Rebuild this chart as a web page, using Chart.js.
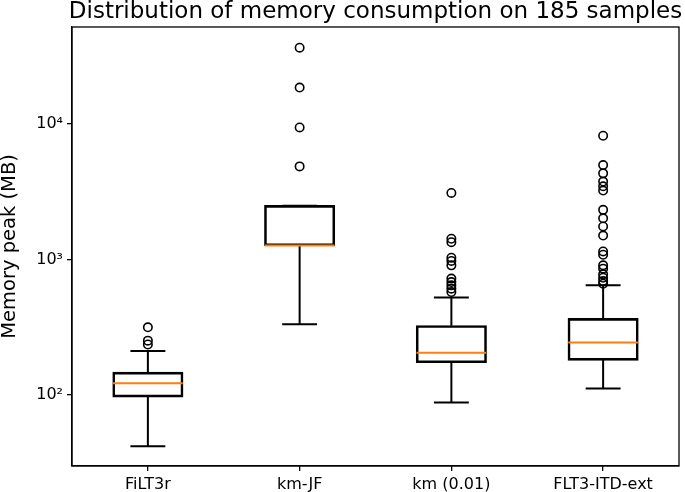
<!DOCTYPE html>
<html>
<head>
<meta charset="utf-8">
<script src="https://cdn.jsdelivr.net/npm/chart.js@4.4.1/dist/chart.umd.min.js"></script>
<style>
  html, body { margin: 0; padding: 0; background: #fff; }
  canvas { display: block; }
</style>
</head>
<body>
<canvas id="memChart" width="685" height="492"></canvas>
<script>
// box plot values (MB)
const labels = ['FiLT3r', 'km-JF', 'km (0.01)', 'FLT3-ITD-ext'];
const q1 = [97, 1267, 174, 181];
const medians = [122, 1267, 205, 244];
const q3 = [147, 2490, 324, 366];
const whiskerLow = [42, 333, 88, 112];
const whiskerHigh = [211, 2490, 525, 644];
const outliers = [
    [236, 252, 316],
    [4850, 9400, 18500, 36400],
    [575, 609, 644, 681, 722, 904, 975, 1030, 1340, 1420, 3090],
    [662, 692, 733, 776, 855, 904, 1083, 1145, 1500, 1750, 2010, 2320, 3220, 3460, 3750, 4310, 4960, 8160]
];
const yTicks = [100, 1000, 10000];
const yTickLabels = ['10²', '10³', '10⁴'];

const titleText = 'Distribution of memory consumption on 185 samples';
const yLabel = 'Memory peak (MB)';
const font = "'DejaVu Sans', sans-serif";

const boxHalf = 0.23;
const capHalf = 0.115;

// build line segments (null breaks the line between segments)
let whiskerPts = [];
let medianPts = [];
let outlierPts = [];
for (let i = 0; i < labels.length; i++) {
    let x = i + 1;
    whiskerPts.push({x: x, y: q1[i]}, {x: x, y: whiskerLow[i]}, {x: x, y: null});
    whiskerPts.push({x: x, y: q3[i]}, {x: x, y: whiskerHigh[i]}, {x: x, y: null});
    whiskerPts.push({x: x - capHalf, y: whiskerLow[i]}, {x: x + capHalf, y: whiskerLow[i]}, {x: x, y: null});
    whiskerPts.push({x: x - capHalf, y: whiskerHigh[i]}, {x: x + capHalf, y: whiskerHigh[i]}, {x: x, y: null});
    medianPts.push({x: x - boxHalf, y: medians[i]}, {x: x + boxHalf, y: medians[i]}, {x: x, y: null});
    outliers[i].forEach(v => outlierPts.push({x: x, y: v}));
}

// frame + title + y label drawn by hand, like matplotlib
const decorPlugin = {
    id: 'decor',
    afterDraw(chart) {
        const ctx = chart.ctx;
        const a = chart.chartArea;
        ctx.save();
        ctx.strokeStyle = '#000';
        ctx.lineWidth = 1.3;
        ctx.strokeRect(a.left, a.top, a.right - a.left, a.bottom - a.top);

        ctx.fillStyle = '#000';
        ctx.font = '23px ' + font;
        ctx.textAlign = 'center';
        ctx.textBaseline = 'alphabetic';
        ctx.fillText(titleText, (a.left + a.right) / 2, 18);

        ctx.font = '19.5px ' + font;
        ctx.translate(15, (a.top + a.bottom) / 2);
        ctx.rotate(-Math.PI / 2);
        ctx.fillText(yLabel, 0, 0);
        ctx.restore();
    }
};

var chart = new Chart(document.getElementById('memChart').getContext('2d'), {
    type: 'bar',
    data: {
        labels: labels,
        datasets: [
            {
                type: 'line',
                data: medianPts,
                xAxisID: 'xl',
                borderColor: '#ff7f0e',
                borderWidth: 2,
                pointRadius: 0,
                spanGaps: false,
                order: 0
            },
            {
                type: 'scatter',
                data: outlierPts,
                xAxisID: 'xl',
                pointStyle: 'circle',
                pointRadius: 4.2,
                borderColor: '#000',
                borderWidth: 1.6,
                backgroundColor: 'rgba(0,0,0,0)',
                order: 0
            },
            {
                type: 'bar',
                data: labels.map((l, i) => [q1[i], q3[i]]),
                xAxisID: 'x',
                backgroundColor: 'rgba(0,0,0,0)',
                borderColor: '#000',
                borderWidth: 1.4,
                borderSkipped: false,
                inflateAmount: 0.6,
                grouped: false,
                barPercentage: 0.46,
                categoryPercentage: 1.0,
                order: 1
            },
            {
                type: 'line',
                data: whiskerPts,
                xAxisID: 'xl',
                borderColor: '#000',
                borderWidth: 2,
                pointRadius: 0,
                spanGaps: false,
                order: 2
            }
        ]
    },
    options: {
        responsive: false,
        animation: false,
        layout: { padding: { top: 27, right: 6, left: 0, bottom: 0 } },
        plugins: {
            legend: { display: false },
            tooltip: { enabled: false }
        },
        scales: {
            x: {
                type: 'category',
                offset: true,
                grid: { display: true, offset: false, drawOnChartArea: false, drawTicks: true, tickLength: 5, color: '#000', lineWidth: 1.3 },
                border: { display: true, color: '#000', width: 1.3 },
                ticks: { color: '#000', font: { family: font, size: 16 }, padding: 4, maxRotation: 0 },
                afterFit: s => { s.height = 26; }
            },
            xl: {
                type: 'linear',
                display: false,
                offset: false,
                min: 0.5,
                max: 4.5
            },
            y: {
                type: 'logarithmic',
                min: 30,
                max: 51700,
                afterBuildTicks: s => { s.ticks = yTicks.map(v => ({value: v, major: true})); },
                grid: { display: true, drawOnChartArea: false, drawTicks: true, tickLength: 5, color: '#000', lineWidth: 1.3 },
                border: { display: true, color: '#000', width: 1.3 },
                ticks: {
                    color: '#000',
                    font: { family: font, size: 16 },
                    padding: 4,
                    callback: (v) => yTickLabels[yTicks.indexOf(v)]
                },
                afterFit: s => { s.width = 72; }
            }
        }
    },
    plugins: [decorPlugin]
});
</script>
</body>
</html>
